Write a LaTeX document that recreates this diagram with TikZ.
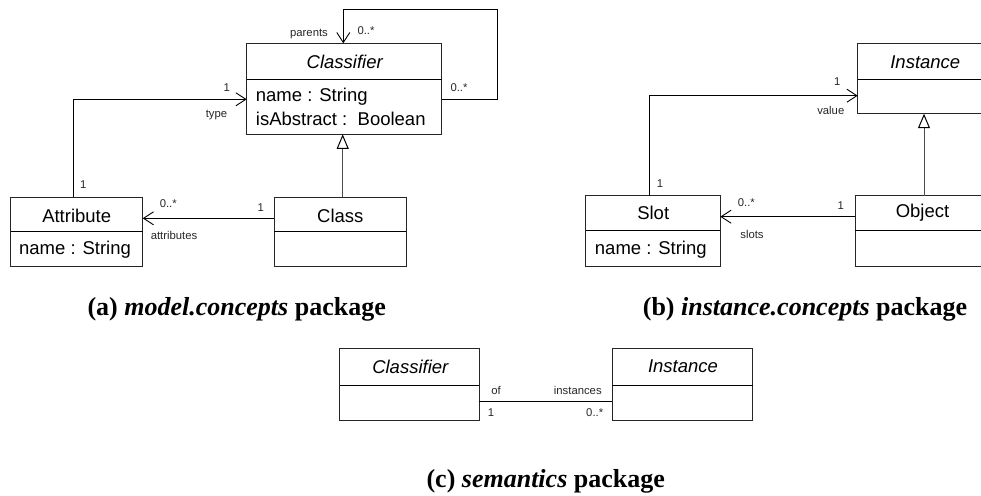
\documentclass[tikz,border=0pt]{standalone}
\usepackage{fontspec}
\setmainfont{Liberation Serif}
\newfontfamily\arialf{Liberation Sans}
\usetikzlibrary{arrows.meta}
\tikzset{
  umlbox/.style={draw=black!85, line width=0.9pt},
  divider/.style={draw=black, line width=0.9pt},
  lbl/.style={font=\arialf\fontsize{11.3}{12}\selectfont, inner sep=0pt, text=black!85},
  big/.style={font=\arialf\fontsize{18.5}{20}\selectfont, inner sep=0pt},
  bigit/.style={font=\arialf\itshape\fontsize{18.5}{20}\selectfont, inner sep=0pt},
  captxt/.style={font=\bfseries\fontsize{26}{28}\selectfont, inner sep=0pt, anchor=base},
  assoc/.style={draw=black, line width=0.9pt},
  navarrow/.style={assoc, -{Straight Barb[length=10pt,width=13pt,line width=0.9pt]}},
  genarrow/.style={draw=black!70, line width=1pt, -{Triangle[open,length=14.5pt,width=12pt,line width=1pt,fill=white,color=black]}}
}
\begin{document}
\begin{tikzpicture}[x=1pt,y=-1pt]
\useasboundingbox (0,0) rectangle (981,495);
\clip (0,0) rectangle (981,495);

% ---------- (a) model.concepts ----------
\draw[umlbox] (246.7,43.3) rectangle (441.7,134.3);
\draw[divider] (246.7,79) -- (441.7,79);
\coordinate (clfN) at (343.3,43.3);
\coordinate (clfE) at (441.7,99.3);
\coordinate (clfW) at (246.7,99.3);
\coordinate (clfS) at (342.7,134.3);
\node[bigit] (clfname) at (344.7,62) {Classifier};
\node[big, anchor=west] (clfa1) at (255.7,97) {name : String};
\node[big, anchor=west] (clfa2) at (255.7,118.5) {isAbstract :\ \ Boolean};

\draw[umlbox] (10.7,197.3) rectangle (142.7,266.7);
\draw[divider] (10.7,231.7) -- (142.7,231.7);
\coordinate (attrN) at (73.3,197.3);
\coordinate (attrE) at (142.7,218.3);
\node[big] (attrname) at (76.7,216) {Attribute};
\node[big] (attra1) at (75,250) {name : String};

\draw[umlbox] (274.3,197.3) rectangle (406.3,266.7);
\draw[divider] (274.3,231.7) -- (406.3,231.7);
\coordinate (clsN) at (342.7,197.3);
\coordinate (clsW) at (274.3,218.3);
\node[big] (clsname) at (340.3,216) {Class};

% self loop parents
\coordinate (loop1) at (497.3,99.3);
\coordinate (loop2) at (497.3,9);
\coordinate (loop3) at (343.3,9);
\draw[navarrow] (clfE) -- (loop1) -- (loop2) -- (loop3) -- (clfN);
\node[lbl] (lparents) at (309,34) {parents};
\node[lbl] (lpm1) at (366,31) {0..*};
\node[lbl] (lpm2) at (459,88) {0..*};

% type
\coordinate (tbend) at (73.3,99.3);
\draw[navarrow] (attrN) -- (tbend) -- (clfW);
\node[lbl] (ltype1) at (226.7,87.3) {1};
\node[lbl] (ltype) at (216.5,115) {type};
\node[lbl] (ltype2) at (83.3,185) {1};

% generalization
\draw[genarrow] (clsN) -- (clfS);

% attributes
\draw[navarrow] (clsW) -- (attrE);
\node[lbl] (lam) at (168.3,204) {0..*};
\node[lbl] (lattr) at (174,235) {attributes};
\node[lbl] (la1) at (260.7,207.5) {1};

\node[captxt] (capa) at (236.7,315) {(a) \textit{model.concepts} package};

% ---------- (b) instance.concepts ----------
\draw[umlbox] (857.7,43.3) rectangle (993,113.7);
\draw[divider] (857.7,79.3) -- (993,79.3);
\coordinate (instW) at (857.7,95.7);
\coordinate (instS) at (924,113.7);
\node[bigit] (instname) at (925.3,62) {Instance};

\draw[umlbox] (585.7,195.7) rectangle (720.3,266.3);
\draw[divider] (585.7,230) -- (720.3,230);
\coordinate (slotN) at (649.3,195.7);
\coordinate (slotE) at (720.3,216.7);
\node[big] (slotname) at (653.2,213.3) {Slot};
\node[big] (slota1) at (650.8,249.3) {name : String};

\draw[umlbox] (855,195.7) rectangle (990,266.3);
\draw[divider] (855,230) -- (990,230);
\coordinate (objN) at (924,195.7);
\coordinate (objW) at (855,216.7);
\node[big] (objname) at (922.5,213) {Object};

\coordinate (vbend) at (649.3,95.7);
\draw[navarrow] (slotN) -- (vbend) -- (instW);
\node[lbl] (lv1) at (837.3,81.7) {1};
\node[lbl] (lvalue) at (830.8,110) {value};
\node[lbl] (lv2) at (660,183.3) {1};

\draw[genarrow] (objN) -- (instS);

\draw[navarrow] (objW) -- (slotE);
\node[lbl] (lsm) at (746.3,202.7) {0..*};
\node[lbl] (lslots) at (752,234) {slots};
\node[lbl] (ls1) at (840.7,206) {1};

\node[captxt] (capb) at (805,315) {(b) \textit{instance.concepts} package};

% ---------- (c) semantics ----------
\draw[umlbox] (339.7,348.5) rectangle (479.3,420.5);
\draw[divider] (339.7,385.3) -- (479.3,385.3);
\coordinate (c2E) at (479.3,401.3);
\node[bigit] (c2name) at (410.3,367.3) {Classifier};

\draw[umlbox] (612.3,348.5) rectangle (752.7,420.5);
\draw[divider] (612.3,385.3) -- (752.7,385.3);
\coordinate (i2W) at (612.3,401.3);
\node[bigit] (i2name) at (683,366.7) {Instance};

\draw[assoc] (c2E) -- (i2W);
\node[lbl] (lof) at (496,390) {of};
\node[lbl] (linst) at (577.8,390) {instances};
\node[lbl] (lc1) at (491,413) {1};
\node[lbl] (lcm) at (594.7,413) {0..*};

\node[captxt] (capc) at (545.7,487) {(c) \textit{semantics} package};
\end{tikzpicture}
\end{document}
